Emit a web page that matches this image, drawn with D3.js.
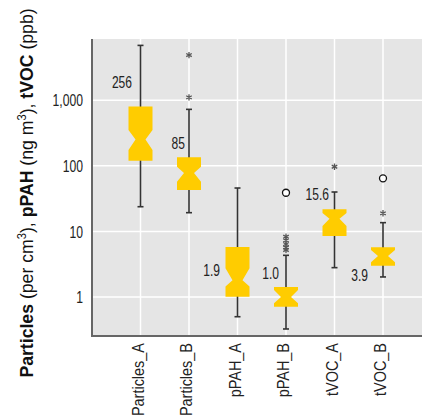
<!DOCTYPE html>
<html>
<head>
<meta charset="utf-8">
<script src="https://cdn.jsdelivr.net/npm/d3@7"></script>
<style>
  body { margin: 0; background: #fff; }
  svg text { font-family: "Liberation Sans", Arial, sans-serif; }
</style>
</head>
<body>
<div id="chart"></div>
<script>
// box statistics (log scale)
var categories = ["Particles_A", "Particles_B", "pPAH_A", "pPAH_B", "tVOC_A", "tVOC_B"];
var whiskerLow  = [23.8, 19.3, 0.50, 0.325, 2.8, 2.02];
var q1          = [120, 42.8, 1.01, 0.71, 8.5, 3.0];
var notchLow    = [174, 57, 1.44, 0.80, 12.1, 3.4];
var medians     = [253, 78, 1.8, 1.0, 15.6, 4.2];
var notchHigh   = [351, 97, 2.74, 1.28, 19.1, 5.2];
var q3          = [807, 135, 5.78, 1.42, 21.7, 5.72];
var whiskerHigh = [6870, 727, 45.9, 4.32, 39.9, 13.6];
var starOutliers = [[], [4890, 1107], [], [8.3, 7.3, 6.4, 5.7, 5.2], [96.9], [18.9]];
var circleOutliers = [[], [], [], [38.9], [], [64.4]];
var medianLabels = ["256", "85", "1.9", "1.0", "15.6", "3.9"];
var yTicks = [1, 10, 100, 1000];

// label placement relative to the median (pixels)
var labelDx = [-8.5, -4, -17.5, -7, -5.5, -15];
var labelDy = [-51, -24, -4, -18, -19, 25];

var width = 422, height = 418;
var margin = {left: 92, top: 39, bottom: 82};

var svg = d3.select("#chart").append("svg")
  .attr("width", width)
  .attr("height", height);

var x = d3.scalePoint()
  .domain(categories)
  .range([margin.left, 431.5])
  .padding(1);

var y = d3.scaleLog()
  .domain([0.254, 8600])
  .range([height - margin.bottom, margin.top]);

// panel background
svg.append("rect")
  .attr("x", margin.left)
  .attr("y", margin.top)
  .attr("width", width - margin.left)
  .attr("height", y.range()[0] - margin.top)
  .attr("fill", "#e5e5e5");

// grid
svg.selectAll("line.hgrid")
  .data(yTicks)
  .enter().append("line")
  .attr("class", "hgrid")
  .attr("x1", margin.left).attr("x2", width)
  .attr("y1", function(d) { return y(d); })
  .attr("y2", function(d) { return y(d); })
  .attr("stroke", "#fff")
  .attr("stroke-width", 1.5);

svg.selectAll("line.vgrid")
  .data(categories)
  .enter().append("line")
  .attr("class", "vgrid")
  .attr("x1", function(d) { return x(d); })
  .attr("x2", function(d) { return x(d); })
  .attr("y1", margin.top).attr("y2", y.range()[0])
  .attr("stroke", "#fff")
  .attr("stroke-width", 1.5);

// y axis
var yAxis = d3.axisLeft(y)
  .tickValues(yTicks)
  .tickSize(0)
  .tickFormat(d3.format(","));

var gy = svg.append("g")
  .attr("transform", "translate(" + margin.left + ",0)")
  .call(yAxis);
gy.select(".domain").remove();
gy.selectAll("text")
  .attr("x", 0)
  .attr("dy", "0.35em")
  .attr("transform", "translate(-9,0) scale(0.76,1)")
  .attr("font-size", 16)
  .attr("fill", "#222");

// x axis
var xAxis = d3.axisBottom(x).tickSize(0);
var gx = svg.append("g")
  .attr("transform", "translate(0," + y.range()[0] + ")")
  .call(xAxis);
gx.select(".domain").remove();
gx.selectAll("text")
  .attr("font-size", 17)
  .attr("fill", "#222")
  .attr("text-anchor", "end")
  .attr("transform", "translate(2.5,7) rotate(-90) scale(0.85,1)")
  .attr("x", 0)
  .attr("y", 0)
  .attr("dy", 0);

// axis lines
svg.append("line")
  .attr("x1", margin.left).attr("x2", margin.left)
  .attr("y1", margin.top).attr("y2", y.range()[0] + 1)
  .attr("stroke", "#666").attr("stroke-width", 2);
svg.append("line")
  .attr("x1", margin.left).attr("x2", width)
  .attr("y1", y.range()[0]).attr("y2", y.range()[0])
  .attr("stroke", "#666").attr("stroke-width", 2);

// boxes
var hw = 12, nw = 5, cap = 3;

var boxes = svg.selectAll("g.box")
  .data(categories)
  .enter().append("g")
  .attr("class", "box");

boxes.append("line")
  .attr("x1", function(d) { return x(d); })
  .attr("x2", function(d) { return x(d); })
  .attr("y1", function(d, i) { return y(whiskerLow[i]); })
  .attr("y2", function(d, i) { return y(whiskerHigh[i]); })
  .attr("stroke", "#333")
  .attr("stroke-width", 1.6);

boxes.append("line")
  .attr("x1", function(d) { return x(d) - cap; })
  .attr("x2", function(d) { return x(d) + cap; })
  .attr("y1", function(d, i) { return y(whiskerLow[i]); })
  .attr("y2", function(d, i) { return y(whiskerLow[i]); })
  .attr("stroke", "#333").attr("stroke-width", 1.6);

boxes.append("line")
  .attr("x1", function(d) { return x(d) - cap; })
  .attr("x2", function(d) { return x(d) + cap; })
  .attr("y1", function(d, i) { return y(whiskerHigh[i]); })
  .attr("y2", function(d, i) { return y(whiskerHigh[i]); })
  .attr("stroke", "#333").attr("stroke-width", 1.6);

boxes.append("path")
  .attr("fill", "#ffcc00")
  .attr("d", function(d, i) {
    var cx = x(d);
    var pts = [
      [cx - hw, y(q3[i])], [cx + hw, y(q3[i])],
      [cx + hw, y(notchHigh[i])], [cx + nw, y(medians[i])],
      [cx + hw, y(notchLow[i])], [cx + hw, y(q1[i])],
      [cx - hw, y(q1[i])], [cx - hw, y(notchLow[i])],
      [cx - nw, y(medians[i])], [cx - hw, y(notchHigh[i])]
    ];
    return d3.line()(pts) + "Z";
  });

// outliers
var star = d3.symbol().type(d3.symbolAsterisk).size(28);

categories.forEach(function(c, i) {
  svg.selectAll(null)
    .data(starOutliers[i])
    .enter().append("path")
    .attr("d", star)
    .attr("transform", function(v) { return "translate(" + x(c) + "," + y(v) + ")"; })
    .attr("fill", "none")
    .attr("stroke", "#555")
    .attr("stroke-width", 1.3);

  svg.selectAll(null)
    .data(circleOutliers[i])
    .enter().append("circle")
    .attr("cx", x(c))
    .attr("cy", function(v) { return y(v); })
    .attr("r", 3.5)
    .attr("fill", "#fff")
    .attr("stroke", "#111")
    .attr("stroke-width", 1.3);
});

// median labels
svg.selectAll("text.mlab")
  .data(categories)
  .enter().append("text")
  .attr("class", "mlab")
  .attr("font-size", 16.5)
  .attr("fill", "#222")
  .attr("text-anchor", "end")
  .attr("transform", function(d, i) {
    return "translate(" + (x(d) + labelDx[i]) + "," + (y(medians[i]) + labelDy[i]) + ") scale(0.73,1)";
  })
  .text(function(d, i) { return medianLabels[i]; });

// y title
var title = svg.append("text")
  .attr("transform", "translate(33,193) rotate(-90) scale(0.93,1)")
  .attr("text-anchor", "middle")
  .attr("font-size", 19)
  .attr("fill", "#111");
title.append("tspan").attr("font-weight", "bold").text("Particles");
title.append("tspan").text(" (per cm");
title.append("tspan").attr("font-size", 12).attr("dy", -7).text("3");
title.append("tspan").attr("dy", 7).text("), ");
title.append("tspan").attr("font-weight", "bold").text("pPAH");
title.append("tspan").text(" (ng m");
title.append("tspan").attr("font-size", 12).attr("dy", -7).text("3");
title.append("tspan").attr("dy", 7).text("), ");
title.append("tspan").attr("font-weight", "bold").text("tVOC");
title.append("tspan").text(" (ppb)");
</script>
</body>
</html>
